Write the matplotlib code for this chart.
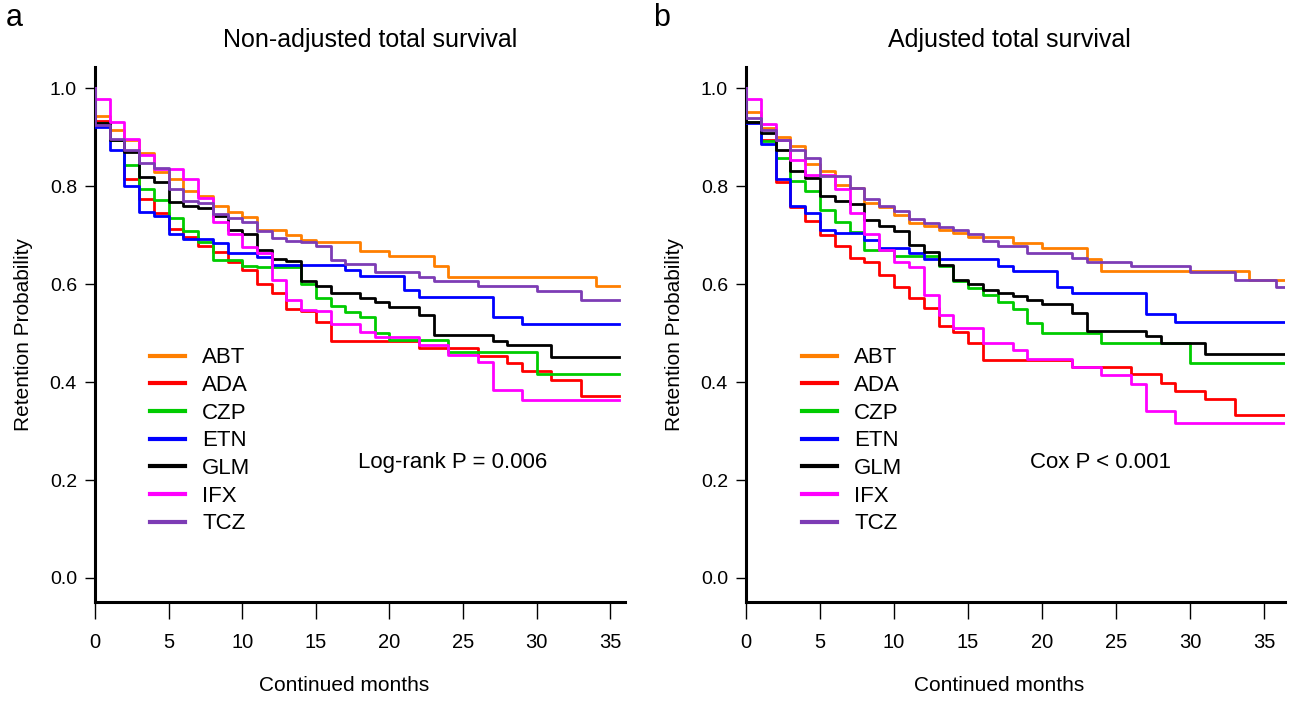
import matplotlib
matplotlib.use('Agg')
import matplotlib.pyplot as plt
from matplotlib import font_manager

# %% Data: monthly Kaplan-Meier retention (value held on [k, k+1))
drugs = ['ABT', 'ADA', 'CZP', 'ETN', 'GLM', 'IFX', 'TCZ']
colors = ['#FF7F00', '#FF0000', '#00CC00', '#0000FF', '#000000', '#FF00FF', '#7D3CB5']

# panel a: non-adjusted
abt_a = [0.944, 0.914, 0.893, 0.867, 0.829, 0.815, 0.789, 0.779, 0.759, 0.747, 0.737, 0.711,
         0.711, 0.700, 0.690, 0.686, 0.686, 0.686, 0.667, 0.667, 0.658, 0.658, 0.658, 0.637,
         0.615, 0.615, 0.615, 0.615, 0.615, 0.615, 0.615, 0.615, 0.615, 0.615, 0.597, 0.597]
ada_a = [0.932, 0.893, 0.815, 0.773, 0.744, 0.713, 0.696, 0.677, 0.666, 0.645, 0.629, 0.601,
         0.581, 0.550, 0.545, 0.523, 0.484, 0.484, 0.484, 0.484, 0.484, 0.484, 0.469, 0.469,
         0.469, 0.469, 0.454, 0.454, 0.438, 0.422, 0.422, 0.404, 0.404, 0.371, 0.371, 0.371]
czp_a = [0.929, 0.895, 0.843, 0.795, 0.772, 0.735, 0.709, 0.686, 0.650, 0.650, 0.637, 0.635,
         0.635, 0.635, 0.601, 0.572, 0.555, 0.543, 0.532, 0.501, 0.486, 0.486, 0.486, 0.486,
         0.462, 0.462, 0.462, 0.462, 0.462, 0.462, 0.416, 0.416, 0.416, 0.416, 0.416, 0.416]
etn_a = [0.921, 0.873, 0.800, 0.748, 0.738, 0.702, 0.691, 0.691, 0.683, 0.663, 0.663, 0.656,
         0.639, 0.639, 0.639, 0.639, 0.639, 0.629, 0.616, 0.616, 0.616, 0.588, 0.574, 0.574,
         0.574, 0.574, 0.574, 0.532, 0.532, 0.518, 0.518, 0.518, 0.518, 0.518, 0.518, 0.518]
glm_a = [0.929, 0.895, 0.869, 0.819, 0.808, 0.768, 0.760, 0.755, 0.738, 0.710, 0.702, 0.670,
         0.652, 0.648, 0.607, 0.596, 0.581, 0.581, 0.572, 0.564, 0.554, 0.554, 0.537, 0.496,
         0.496, 0.496, 0.496, 0.484, 0.476, 0.476, 0.476, 0.452, 0.452, 0.452, 0.452, 0.452]
ifx_a = [0.977, 0.930, 0.897, 0.864, 0.835, 0.835, 0.814, 0.776, 0.726, 0.703, 0.676, 0.663,
         0.608, 0.567, 0.547, 0.545, 0.519, 0.519, 0.503, 0.492, 0.492, 0.492, 0.476, 0.476,
         0.456, 0.456, 0.441, 0.384, 0.384, 0.363, 0.363, 0.363, 0.363, 0.363, 0.363, 0.363]
tcz_a = [0.924, 0.897, 0.874, 0.848, 0.837, 0.793, 0.769, 0.765, 0.743, 0.735, 0.727, 0.709,
         0.694, 0.688, 0.685, 0.677, 0.649, 0.640, 0.640, 0.625, 0.625, 0.625, 0.615, 0.606,
         0.606, 0.606, 0.596, 0.596, 0.596, 0.596, 0.586, 0.586, 0.586, 0.567, 0.567, 0.567]

# panel b: adjusted
abt_b = [0.951, 0.918, 0.901, 0.882, 0.844, 0.830, 0.803, 0.796, 0.765, 0.758, 0.740, 0.725,
         0.718, 0.710, 0.704, 0.697, 0.697, 0.697, 0.683, 0.683, 0.673, 0.673, 0.673, 0.651,
         0.627, 0.627, 0.627, 0.627, 0.627, 0.627, 0.627, 0.627, 0.627, 0.627, 0.608, 0.608]
ada_b = [0.930, 0.893, 0.808, 0.758, 0.729, 0.700, 0.677, 0.653, 0.644, 0.619, 0.593, 0.572,
         0.552, 0.514, 0.503, 0.479, 0.445, 0.445, 0.445, 0.445, 0.445, 0.445, 0.431, 0.431,
         0.431, 0.431, 0.416, 0.416, 0.398, 0.381, 0.381, 0.365, 0.365, 0.333, 0.333, 0.333]
czp_b = [0.930, 0.891, 0.857, 0.810, 0.789, 0.751, 0.727, 0.706, 0.669, 0.669, 0.658, 0.658,
         0.658, 0.636, 0.606, 0.592, 0.578, 0.564, 0.550, 0.520, 0.501, 0.501, 0.501, 0.501,
         0.479, 0.479, 0.479, 0.479, 0.479, 0.479, 0.438, 0.438, 0.438, 0.438, 0.438, 0.438]
etn_b = [0.929, 0.885, 0.814, 0.760, 0.746, 0.710, 0.704, 0.704, 0.690, 0.673, 0.673, 0.663,
         0.652, 0.652, 0.652, 0.652, 0.652, 0.637, 0.626, 0.626, 0.626, 0.593, 0.582, 0.582,
         0.582, 0.582, 0.582, 0.539, 0.539, 0.523, 0.523, 0.523, 0.523, 0.523, 0.523, 0.523]
glm_b = [0.930, 0.908, 0.874, 0.830, 0.816, 0.779, 0.769, 0.764, 0.731, 0.718, 0.709, 0.680,
         0.665, 0.639, 0.608, 0.601, 0.588, 0.582, 0.576, 0.568, 0.559, 0.559, 0.540, 0.505,
         0.505, 0.505, 0.505, 0.493, 0.479, 0.479, 0.479, 0.458, 0.458, 0.458, 0.458, 0.458]
ifx_b = [0.977, 0.927, 0.893, 0.854, 0.822, 0.822, 0.795, 0.744, 0.703, 0.670, 0.645, 0.635,
         0.578, 0.537, 0.510, 0.510, 0.479, 0.479, 0.465, 0.447, 0.447, 0.447, 0.431, 0.431,
         0.414, 0.414, 0.396, 0.341, 0.341, 0.317, 0.317, 0.317, 0.317, 0.317, 0.317, 0.317]
tcz_b = [0.939, 0.914, 0.895, 0.874, 0.857, 0.820, 0.820, 0.796, 0.773, 0.760, 0.750, 0.732,
         0.725, 0.716, 0.710, 0.703, 0.687, 0.677, 0.677, 0.664, 0.664, 0.664, 0.654, 0.646,
         0.646, 0.646, 0.636, 0.636, 0.636, 0.636, 0.625, 0.625, 0.625, 0.608, 0.608, 0.608]
tcz_b_tail = (35.8, 0.593)

curves_a = [abt_a, ada_a, czp_a, etn_a, glm_a, ifx_a, tcz_a]
curves_b = [abt_b, ada_b, czp_b, etn_b, glm_b, ifx_b, tcz_b]

# %% Fonts
avail = {f.name for f in font_manager.fontManager.ttflist}
plt.rcParams['font.family'] = ['Liberation Sans', 'DejaVu Sans'] if 'Liberation Sans' in avail else ['DejaVu Sans']


def km_panel(ax, curves, end, xmax, stat_text, stat_x, tail=None):
    for i, (vals, col, name) in enumerate(zip(curves, colors, drugs)):
        x = [0] + list(range(len(vals))) + [end]
        y = [1.0] + vals + [vals[-1]]
        if tail is not None and name == 'TCZ':
            x = x[:-1] + [tail[0], end]
            y = y[:-1] + [tail[1], tail[1]]
        ax.step(x, y, where='post', color=col, lw=2.0, label=name, zorder=2 + i)

    ax.set_xlim(0, xmax)
    ax.set_ylim(-0.049, 1.043)
    ax.set_xticks(range(0, 36, 5))
    ax.set_yticks([0.0, 0.2, 0.4, 0.6, 0.8, 1.0])
    ax.set_yticklabels(['0.0', '0.2', '0.4', '0.6', '0.8', '1.0'])
    ax.spines['top'].set_visible(False)
    ax.spines['right'].set_visible(False)
    ax.spines['left'].set_linewidth(2.2)
    ax.spines['bottom'].set_linewidth(2.2)
    ax.tick_params(axis='x', length=12, width=1.0, pad=10, labelsize=14.5)
    ax.tick_params(axis='y', length=7, width=1.0, pad=6, labelsize=14)
    ax.set_xlabel('Continued months', fontsize=15)
    ax.xaxis.set_label_coords(0.47, -0.138)
    ax.set_ylabel('Retention Probability', fontsize=15, labelpad=12)

    leg = ax.legend(loc='upper left', bbox_to_anchor=(0.104, 0.476), frameon=False,
                    fontsize=16, handlelength=1.55, handletextpad=0.8,
                    labelspacing=0.3, borderpad=0, borderaxespad=0)
    for h in leg.legend_handles:
        h.set_linewidth(3.0)
    ax.text(stat_x, 0.235, stat_text, fontsize=16, va='center', ha='left')


fig = plt.figure(figsize=(13, 7.03), dpi=100)
ax1 = fig.add_axes([95 / 1300, 101 / 703, 530 / 1300, 535 / 703])
ax2 = fig.add_axes([746 / 1300, 101 / 703, 539 / 1300, 535 / 703])

km_panel(ax1, curves_a, 35.6, 36.0, 'Log-rank P = 0.006', 17.85)
km_panel(ax2, curves_b, 36.4, 36.4, 'Cox P < 0.001', 19.2, tail=tcz_b_tail)

fig.text(370 / 1300, 1 - 40 / 703, 'Non-adjusted total survival', fontsize=18, ha='center', va='center')
fig.text(1009 / 1300, 1 - 40 / 703, 'Adjusted total survival', fontsize=18, ha='center', va='center')
fig.text(14 / 1300, 1 - 18 / 703, 'a', fontsize=22, ha='center', va='center')
fig.text(662 / 1300, 1 - 18 / 703, 'b', fontsize=22, ha='center', va='center')

fig.savefig('out.png', dpi=100)
